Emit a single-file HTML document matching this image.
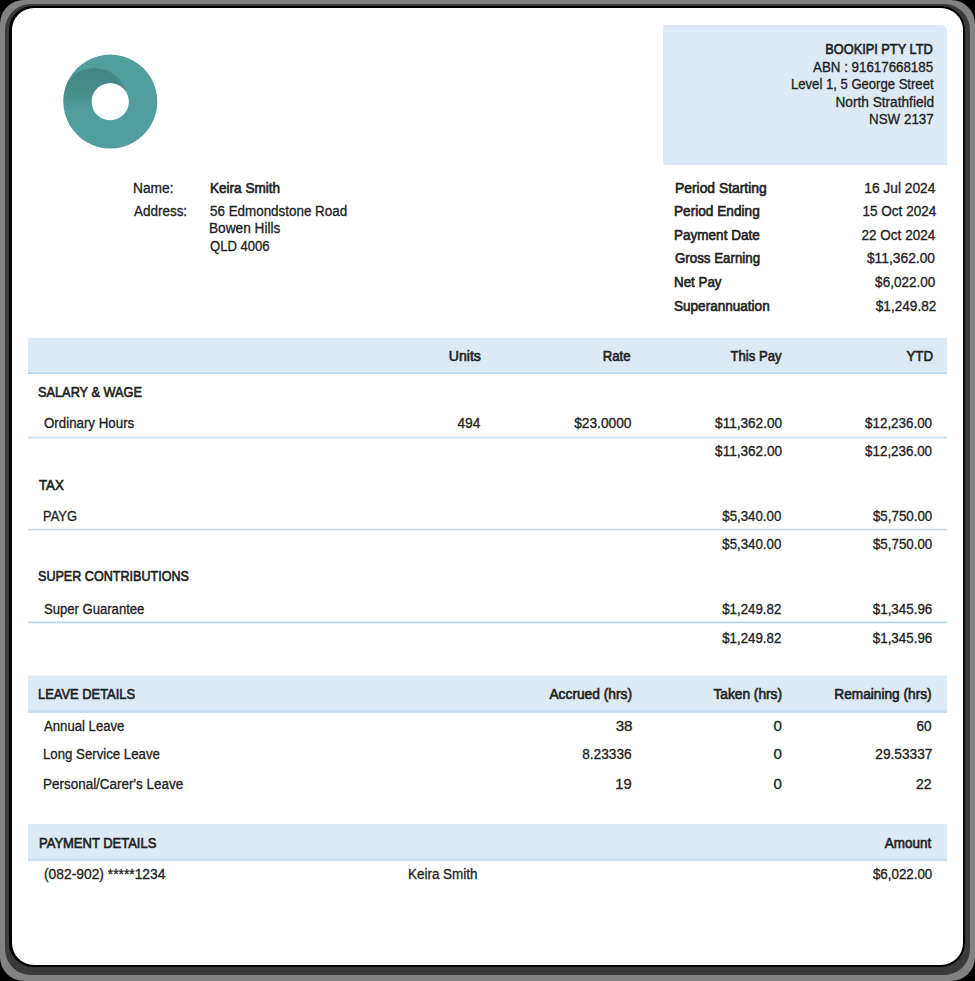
<!DOCTYPE html>
<html><head><meta charset="utf-8"><style>
html,body{margin:0;padding:0}
body{width:975px;height:981px;background:#000;position:relative;overflow:hidden;font-family:"Liberation Sans",sans-serif}
.ring{position:absolute}
#r1{left:0;top:0;width:975px;height:981px;border-radius:24px;background:#828282}
#r2{left:4.5px;top:4px;width:965px;height:971px;border-radius:26px;background:#3a3a3a}
#r3{left:9px;top:6px;width:956px;height:960.5px;border-radius:24px;background:#000}
#card{position:absolute;left:12px;top:8px;width:951px;height:957px;border-radius:22px;background:#fff}
.t{position:absolute;white-space:nowrap;font-size:14px;line-height:20px;height:20px;color:#212121}
.b{font-weight:normal;-webkit-text-stroke:0.6px #212121}
.r{-webkit-text-stroke:0.3px #212121}
.rw{position:absolute;left:28px;width:919px}
#cobox{position:absolute;left:663px;top:25px;width:283.5px;height:140px;background:#dde9f4;border-top-right-radius:6px}
</style></head><body>
<div class="ring" id="r1"></div><div class="ring" id="r2"></div><div class="ring" id="r3"></div>
<div id="card"></div>
<div id="cobox"></div>
<svg style="position:absolute;left:0;top:0" width="975" height="981">
 <defs>
  <clipPath id="ring"><path fill-rule="evenodd" clip-rule="evenodd" d="M110.3 54.6a47 47 0 1 0 0.01 0zM110.2 83a18.6 18.6 0 1 0 0.01 0z"/></clipPath>
  <linearGradient id="sh" x1="0" y1="0" x2="0" y2="1">
   <stop offset="0" stop-color="#3f7f7d" stop-opacity="0.8"/>
   <stop offset="0.3" stop-color="#3f7f7d" stop-opacity="0.65"/>
   <stop offset="0.66" stop-color="#3f7f7d" stop-opacity="0"/>
  </linearGradient>
 </defs>
 <g clip-path="url(#ring)">
  <rect x="60" y="50" width="100" height="104" fill="#519e9f"/>
  <circle cx="94.5" cy="101" r="33" fill="url(#sh)"/>
 </g>
</svg>
<div class="rw" style="top:338px;height:36px;background:linear-gradient(to bottom,#dde9f4 0px,#dde9f4 34px,#cfe1ef 34px,#cfe1ef 35px,#b5d3ea 35px,#b5d3ea 36px)"></div>
<div class="rw" style="top:436px;height:3px;background:linear-gradient(to bottom,#e3eef7 0px,#e3eef7 1px,#d3e4f2 1px,#d3e4f2 2px,#e3eef7 2px,#e3eef7 3px)"></div>
<div class="rw" style="top:528px;height:3px;background:linear-gradient(to bottom,#f4f8fc 0px,#f4f8fc 1px,#c6dcee 1px,#c6dcee 2px,#e7f0f8 2px,#e7f0f8 3px)"></div>
<div class="rw" style="top:621px;height:3px;background:linear-gradient(to bottom,#e0ecf6 0px,#e0ecf6 1px,#b8d5ec 1px,#b8d5ec 2px,#eef4fa 2px,#eef4fa 3px)"></div>
<div class="rw" style="top:675px;height:38px;background:linear-gradient(to bottom,#edf3f9 0px,#edf3f9 1px,#dde9f4 1px,#dde9f4 35px,#cbe0ef 35px,#cbe0ef 38px)"></div>
<div class="rw" style="top:824px;height:38px;background:linear-gradient(to bottom,#dde9f4 0px,#dde9f4 34px,#d3e3f1 34px,#d3e3f1 35px,#c5dced 35px,#c5dced 36px,#d3e3f1 36px,#d3e3f1 37px,#eff5fa 37px,#eff5fa 38px)"></div>
<div id="t0" class="t b" style="right:41.83px;top:39.4px;transform-origin:100% 0;transform:scaleX(0.9133)">BOOKIPI PTY LTD</div>
<div id="t1" class="t r" style="right:41.54px;top:57.4px;transform-origin:100% 0;transform:scaleX(0.9518)">ABN : 91617668185</div>
<div id="t2" class="t r" style="right:41.35px;top:73.8px;transform-origin:100% 0;transform:scaleX(0.9343)">Level 1, 5 George Street</div>
<div id="t3" class="t r" style="right:41.26px;top:91.9px;transform-origin:100% 0;transform:scaleX(0.9757)">North Strathfield</div>
<div id="t4" class="t r" style="right:41.53px;top:109.4px;transform-origin:100% 0;transform:scaleX(0.9551)">NSW 2137</div>
<div id="t5" class="t r" style="left:132.78px;top:177.5px;transform-origin:0 0;transform:scaleX(0.9823)">Name:</div>
<div id="t6" class="t r" style="left:133.83px;top:201.2px;transform-origin:0 0;transform:scaleX(0.9611)">Address:</div>
<div id="t7" class="t b" style="left:209.86px;top:177.5px;transform-origin:0 0;transform:scaleX(0.9679)">Keira Smith</div>
<div id="t8" class="t r" style="left:209.54px;top:201.2px;transform-origin:0 0;transform:scaleX(0.9574)">56 Edmondstone Road</div>
<div id="t9" class="t r" style="left:209.39px;top:217.8px;transform-origin:0 0;transform:scaleX(0.9769)">Bowen Hills</div>
<div id="t10" class="t r" style="left:210.2px;top:235.7px;transform-origin:0 0;transform:scaleX(0.9346)">QLD 4006</div>
<div id="t11" class="t b" style="left:674.57px;top:177.5px;transform-origin:0 0;transform:scaleX(0.9902)">Period Starting</div>
<div id="t12" class="t r" style="right:39.71px;top:177.5px;transform-origin:100% 0;transform:scaleX(0.983)">16 Jul 2024</div>
<div id="t13" class="t b" style="left:673.89px;top:201.4px;transform-origin:0 0;transform:scaleX(0.9746)">Period Ending</div>
<div id="t14" class="t r" style="right:39.11px;top:201.4px;transform-origin:100% 0;transform:scaleX(0.9676)">15 Oct 2024</div>
<div id="t15" class="t b" style="left:674.18px;top:225.4px;transform-origin:0 0;transform:scaleX(0.9663)">Payment Date</div>
<div id="t16" class="t r" style="right:39.37px;top:225.4px;transform-origin:100% 0;transform:scaleX(0.9673)">22 Oct 2024</div>
<div id="t17" class="t b" style="left:674.77px;top:247.8px;transform-origin:0 0;transform:scaleX(0.951)">Gross Earning</div>
<div id="t18" class="t r" style="right:39.5px;top:247.8px;transform-origin:100% 0;transform:scaleX(0.9869)">$11,362.00</div>
<div id="t19" class="t b" style="left:673.82px;top:271.8px;transform-origin:0 0;transform:scaleX(0.9544)">Net Pay</div>
<div id="t20" class="t r" style="right:39.51px;top:271.8px;transform-origin:100% 0;transform:scaleX(0.9662)">$6,022.00</div>
<div id="t21" class="t b" style="left:674.13px;top:295.8px;transform-origin:0 0;transform:scaleX(0.9678)">Superannuation</div>
<div id="t22" class="t r" style="right:38.68px;top:295.8px;transform-origin:100% 0;transform:scaleX(0.9712)">$1,249.82</div>
<div id="t23" class="t b" style="right:494.01px;top:345.5px;transform-origin:100% 0;transform:scaleX(1.007)">Units</div>
<div id="t24" class="t b" style="right:344.14px;top:345.5px;transform-origin:100% 0;transform:scaleX(0.9405)">Rate</div>
<div id="t25" class="t b" style="right:193.96px;top:345.5px;transform-origin:100% 0;transform:scaleX(0.934)">This Pay</div>
<div id="t26" class="t b" style="right:42.32px;top:345.5px;transform-origin:100% 0;transform:scaleX(0.9465)">YTD</div>
<div id="t27" class="t b" style="left:38.34px;top:381.5px;transform-origin:0 0;transform:scaleX(0.9116)">SALARY &amp; WAGE</div>
<div id="t28" class="t r" style="left:43.82px;top:412.8px;transform-origin:0 0;transform:scaleX(0.9504)">Ordinary Hours</div>
<div id="t29" class="t r" style="right:494.26px;top:412.8px;transform-origin:100% 0;transform:scaleX(0.9796)">494</div>
<div id="t30" class="t r" style="right:343.67px;top:412.8px;transform-origin:100% 0;transform:scaleX(0.9796)">$23.0000</div>
<div id="t31" class="t r" style="right:193.09px;top:412.8px;transform-origin:100% 0;transform:scaleX(0.9695)">$11,362.00</div>
<div id="t32" class="t r" style="right:43.14px;top:412.8px;transform-origin:100% 0;transform:scaleX(0.9563)">$12,236.00</div>
<div id="t33" class="t r" style="right:193.09px;top:441.2px;transform-origin:100% 0;transform:scaleX(0.9695)">$11,362.00</div>
<div id="t34" class="t r" style="right:43.14px;top:441.2px;transform-origin:100% 0;transform:scaleX(0.9563)">$12,236.00</div>
<div id="t35" class="t b" style="left:39.19px;top:474.6px;transform-origin:0 0;transform:scaleX(0.9469)">TAX</div>
<div id="t36" class="t r" style="left:43.46px;top:505.7px;transform-origin:0 0;transform:scaleX(0.9209)">PAYG</div>
<div id="t37" class="t r" style="right:193.91px;top:505.7px;transform-origin:100% 0;transform:scaleX(0.9478)">$5,340.00</div>
<div id="t38" class="t r" style="right:42.91px;top:505.7px;transform-origin:100% 0;transform:scaleX(0.9531)">$5,750.00</div>
<div id="t39" class="t r" style="right:193.91px;top:533.9px;transform-origin:100% 0;transform:scaleX(0.9478)">$5,340.00</div>
<div id="t40" class="t r" style="right:42.91px;top:533.9px;transform-origin:100% 0;transform:scaleX(0.9531)">$5,750.00</div>
<div id="t41" class="t b" style="left:38.39px;top:566.0px;transform-origin:0 0;transform:scaleX(0.8981)">SUPER CONTRIBUTIONS</div>
<div id="t42" class="t r" style="left:44.25px;top:598.8px;transform-origin:0 0;transform:scaleX(0.9344)">Super Guarantee</div>
<div id="t43" class="t r" style="right:193.4px;top:598.8px;transform-origin:100% 0;transform:scaleX(0.9493)">$1,249.82</div>
<div id="t44" class="t r" style="right:43.17px;top:598.8px;transform-origin:100% 0;transform:scaleX(0.9554)">$1,345.96</div>
<div id="t45" class="t r" style="right:193.4px;top:627.6px;transform-origin:100% 0;transform:scaleX(0.9493)">$1,249.82</div>
<div id="t46" class="t r" style="right:43.17px;top:627.6px;transform-origin:100% 0;transform:scaleX(0.9554)">$1,345.96</div>
<div id="t47" class="t b" style="left:38.11px;top:684.2px;transform-origin:0 0;transform:scaleX(0.9216)">LEAVE DETAILS</div>
<div id="t48" class="t b" style="right:343.26px;top:684.2px;transform-origin:100% 0;transform:scaleX(0.9828)">Accrued (hrs)</div>
<div id="t49" class="t b" style="right:193.17px;top:684.2px;transform-origin:100% 0;transform:scaleX(0.9799)">Taken (hrs)</div>
<div id="t50" class="t b" style="right:43.2px;top:684.2px;transform-origin:100% 0;transform:scaleX(0.9769)">Remaining (hrs)</div>
<div id="t51" class="t r" style="left:43.64px;top:715.8px;transform-origin:0 0;transform:scaleX(0.9388)">Annual Leave</div>
<div id="t52" class="t r" style="right:342.85px;top:715.8px;transform-origin:100% 0;transform:scaleX(1.0869)">38</div>
<div id="t53" class="t r" style="right:192.8px;top:715.8px;transform-origin:100% 0;transform:scaleX(1.078)">0</div>
<div id="t54" class="t r" style="right:43.74px;top:715.8px;transform-origin:100% 0;transform:scaleX(0.9675)">60</div>
<div id="t55" class="t r" style="left:43.22px;top:744.0px;transform-origin:0 0;transform:scaleX(0.9446)">Long Service Leave</div>
<div id="t56" class="t r" style="right:343.5px;top:744.0px;transform-origin:100% 0;transform:scaleX(0.9772)">8.23336</div>
<div id="t57" class="t r" style="right:192.8px;top:744.0px;transform-origin:100% 0;transform:scaleX(1.078)">0</div>
<div id="t58" class="t r" style="right:42.84px;top:744.0px;transform-origin:100% 0;transform:scaleX(0.9774)">29.53337</div>
<div id="t59" class="t r" style="left:42.86px;top:774.3px;transform-origin:0 0;transform:scaleX(0.9614)">Personal/Carer's Leave</div>
<div id="t60" class="t r" style="right:343.31px;top:774.3px;transform-origin:100% 0;transform:scaleX(1.0485)">19</div>
<div id="t61" class="t r" style="right:192.8px;top:774.3px;transform-origin:100% 0;transform:scaleX(1.078)">0</div>
<div id="t62" class="t r" style="right:43.06px;top:774.3px;transform-origin:100% 0;transform:scaleX(1.0073)">22</div>
<div id="t63" class="t b" style="left:38.66px;top:833.0px;transform-origin:0 0;transform:scaleX(0.9274)">PAYMENT DETAILS</div>
<div id="t64" class="t b" style="right:43.88px;top:833.0px;transform-origin:100% 0;transform:scaleX(0.9613)">Amount</div>
<div id="t65" class="t r" style="left:43.95px;top:864.4px;transform-origin:0 0;transform:scaleX(0.9871)">(082-902) *****1234</div>
<div id="t66" class="t r" style="left:408.08px;top:864.4px;transform-origin:0 0;transform:scaleX(0.9593)">Keira Smith</div>
<div id="t67" class="t r" style="right:42.54px;top:864.4px;transform-origin:100% 0;transform:scaleX(0.9531)">$6,022.00</div>
</body></html>
